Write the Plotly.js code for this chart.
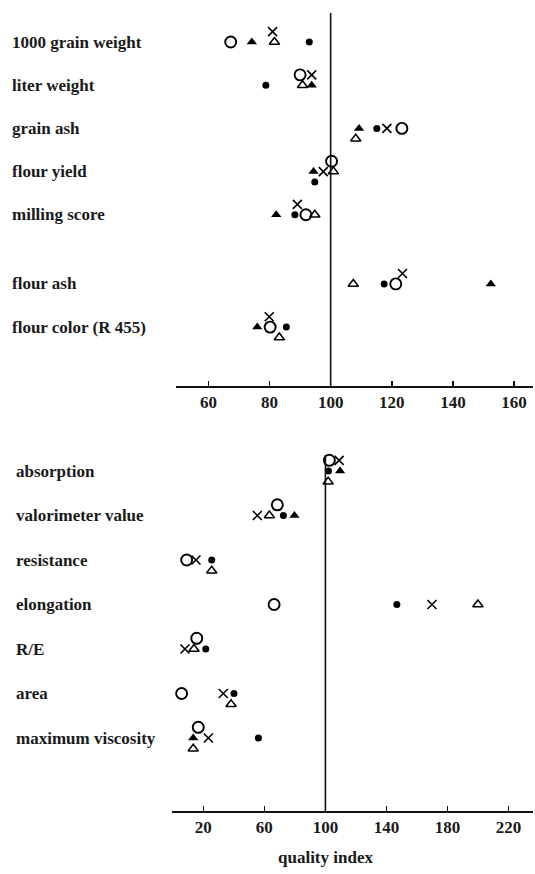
<!DOCTYPE html>
<html><head><meta charset="utf-8">
<script src="https://cdn.plot.ly/plotly-3.0.1.min.js"></script>
<style>html,body{margin:0;padding:0;background:#fff}#chart{width:535px;height:874px}</style>
</head><body><div id="chart"></div>
<script>
// ---- data ----
const topCategories = ["1000 grain weight","liter weight","grain ash","flour yield","milling score","flour ash","flour color (R 455)"];
const topOpenCircle     = [67.3, 90.0, 123.3, 100.3, 91.9, 121.3, 80.2];
const topFilledTriangle = [74.2, 93.8, 109.3, 94.4, 82.2, 152.4, 76.0];
const topCross          = [81.0, 93.8, 118.4, 97.6, 89.1, 123.5, 79.9];
const topOpenTriangle   = [81.6, 90.8, 108.2, 100.9, 94.8, 107.4, 83.2];
const topFilledDot      = [93.0, 78.8, 115.1, 94.8, 88.3, 117.5, 85.5];

const bottomCategories = ["absorption","valorimeter value","resistance","elongation","R/E","area","maximum viscosity"];
const bottomOpenCircle     = [102.6, 68.5, 9.1, 66.4, 15.7, 5.8, 16.7];
const bottomFilledTriangle = [109.6, 79.7, null, null, null, null, 13.4];
const bottomCross          = [109.0, 55.4, 15.2, 169.8, 8.0, 33.1, 23.3];
const bottomOpenTriangle   = [101.8, 63.3, 25.5, 199.9, 13.9, 38.2, 13.4];
const bottomFilledDot      = [102.0, 72.5, 25.5, 146.8, 21.6, 40.1, 56.1];

const topTicks = [60, 80, 100, 120, 140, 160];
const bottomTicks = [20, 60, 100, 140, 180, 220];
const referenceValue = 100;
const xAxisTitle = "quality index";

// ---- layout helpers ----
const W = 535, H = 874;
const FONT = "Liberation Serif, Times New Roman, serif";
const TXT = {family:FONT, size:17, color:'#1a1a1a', weight:'bold'};
const styles = {
  filledTriangle: {symbol:'triangle-up', size:9, line:{width:0}, prefer:[0,1,-1]},
  filledDot:      {symbol:'circle', size:7, line:{width:0}, prefer:[0,1,-1]},
  openTriangle:   {symbol:'triangle-up-open', size:9, line:{width:1.5,color:'black'}, prefer:[0,1,-1]},
  openCircle:     {symbol:'circle-open', size:11, line:{width:1.9,color:'black'}, prefer:[0,-1,1]},
  cross:          {symbol:'x-thin-open', size:9, line:{width:1.6,color:'black'}, prefer:[0,-1,1]}
};
const order = ['filledTriangle','filledDot','openTriangle','openCircle','cross'];

function rowPos(i, gapAfter){ return i + (gapAfter !== null && i > gapAfter ? 0.6 : 0); }

function buildPanel(cats, series, pxPerUnit, xa, ya, gapAfter){
  const step = 0.24, thr = 8.5;
  const ys = {}; order.forEach(k => ys[k] = []);
  cats.forEach((c, i) => {
    const placed = [];
    order.forEach(k => {
      const v = series[k][i];
      if (v === null || v === undefined){ ys[k].push(null); return; }
      let lev = 0;
      for (const L of styles[k].prefer){
        const clash = placed.some(p => p.lev === L && Math.abs(p.v - v) * pxPerUnit < thr);
        if (!clash){ lev = L; break; }
      }
      placed.push({v, lev});
      ys[k].push(rowPos(i, gapAfter) + lev * step);
    });
  });
  return order.map(k => ({
    type:'scatter', mode:'markers', x: series[k], y: ys[k], xaxis: xa, yaxis: ya,
    name: k, showlegend:false, hoverinfo:'x', cliponaxis:false,
    marker:{symbol: styles[k].symbol, size: styles[k].size, color:'black', line: styles[k].line}
  }));
}

const topSeries = {openCircle:topOpenCircle, filledTriangle:topFilledTriangle, cross:topCross, openTriangle:topOpenTriangle, filledDot:topFilledDot};
const bottomSeries = {openCircle:bottomOpenCircle, filledTriangle:bottomFilledTriangle, cross:bottomCross, openTriangle:bottomOpenTriangle, filledDot:bottomFilledDot};

// pixel geometry of the two panels
const geoTop = {x0:176, x1:533, y0:13, y1:386, r:[49.4,166.2]};
const geoBot = {x0:172, x1:533, y0:455, y1:811, r:[-0.5,236]};
const topPx = (geoTop.x1-geoTop.x0)/(geoTop.r[1]-geoTop.r[0]);
const botPx = (geoBot.x1-geoBot.x0)/(geoBot.r[1]-geoBot.r[0]);

const topRowPx = 43.2, topFirst = 42;
const botRowPx = 44.5, botFirst = 471;

const traces = buildPanel(topCategories, topSeries, topPx, 'x', 'y', 4)
  .concat(buildPanel(bottomCategories, bottomSeries, botPx, 'x2', 'y2', null));

const annotations = [];
topCategories.forEach((c,i) => annotations.push({xref:'paper', yref:'y', x:10/W, y:rowPos(i,4), xanchor:'left', yanchor:'middle', text:c, showarrow:false, font:TXT}));
bottomCategories.forEach((c,i) => annotations.push({xref:'paper', yref:'y2', x:14/W, y:rowPos(i,null), xanchor:'left', yanchor:'middle', text:c, showarrow:false, font:TXT}));
annotations.push({xref:'x2', yref:'paper', x:referenceValue, y:(H-857)/H, xanchor:'center', yanchor:'middle', text:xAxisTitle, showarrow:false, font:TXT});

function xaxisCfg(p, ticks, anchor){
  return {domain:[p.x0/W, p.x1/W], range:p.r, tickvals:ticks, ticktext:ticks.map(String), anchor:anchor,
    showline:true, linecolor:'#111', linewidth:1.5, ticks:'inside', ticklen:5, tickwidth:1.5, tickcolor:'#111',
    showgrid:false, zeroline:false, tickfont:TXT, fixedrange:true};
}
function yaxisCfg(p, rowPx, first, anchor){
  return {domain:[(H-p.y1)/H, (H-p.y0)/H], range:[(p.y1-first)/rowPx, -(first-p.y0)/rowPx], anchor:anchor,
    showline:false, showgrid:false, zeroline:false, showticklabels:false, ticks:'', fixedrange:true};
}

const layout = {
  width:W, height:H, margin:{l:0,r:0,t:0,b:0}, paper_bgcolor:'white', plot_bgcolor:'white', showlegend:false,
  xaxis: xaxisCfg(geoTop, topTicks, 'y'),
  yaxis: yaxisCfg(geoTop, topRowPx, topFirst, 'x'),
  xaxis2: xaxisCfg(geoBot, bottomTicks, 'y2'),
  yaxis2: yaxisCfg(geoBot, botRowPx, botFirst, 'x2'),
  shapes:[
    {type:'line', xref:'x', yref:'y domain', x0:referenceValue, x1:referenceValue, y0:0, y1:1, line:{color:'#111', width:1.6}},
    {type:'line', xref:'x2', yref:'y2 domain', x0:referenceValue, x1:referenceValue, y0:0, y1:1, line:{color:'#111', width:1.6}}
  ],
  annotations: annotations
};
Plotly.newPlot('chart', traces, layout, {displayModeBar:false, staticPlot:true});
</script></body></html>
